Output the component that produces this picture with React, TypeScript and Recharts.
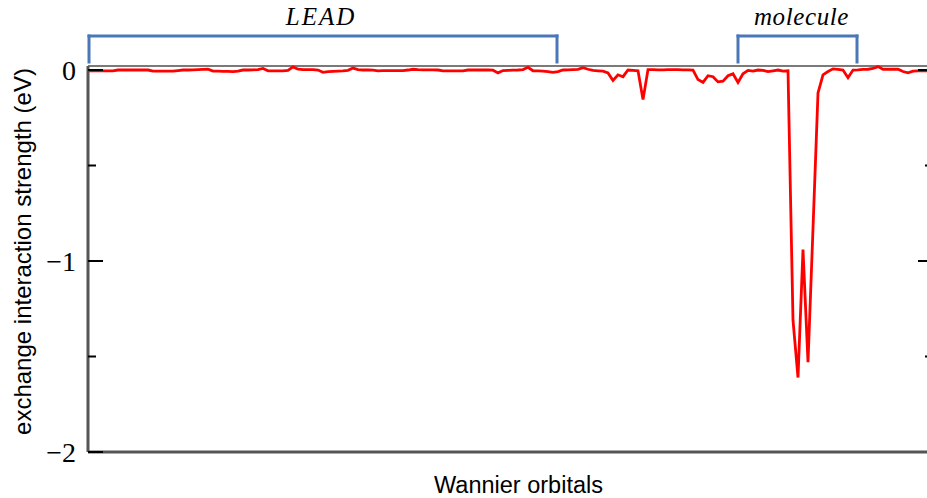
import { LineChart, Line, XAxis, YAxis, ReferenceLine, Label } from 'recharts'

// exchange interaction strength (eV) per Wannier orbital
const exchange = [
  -0.005, -0.005, -0.005, -0.005, -0.005, -0.004, 0, 0, 0, 0.001,
  0, 0.001, 0, -0.006, -0.006, -0.006, -0.006, -0.006, -0.003, 0,
  0, 0.001, 0.002, 0.003, 0.004, -0.006, -0.006, -0.007, -0.007, -0.008,
  -0.006, 0, 0, 0.001, 0.002, 0.008, -0.004, -0.005, -0.005, -0.005,
  -0.002, 0.016, 0.004, 0.002, 0.002, 0.002, 0, -0.012, -0.008, -0.007,
  -0.006, -0.005, -0.002, 0.01, 0.002, 0, 0, -0.001, -0.004, -0.003,
  -0.003, -0.003, -0.003, -0.003, 0, 0.004, 0.002, 0.001, 0.001, 0.001,
  0, -0.005, -0.005, -0.005, -0.005, -0.005, 0, 0, 0, 0,
  0, -0.001, -0.015, -0.003, -0.002, -0.001, 0, 0.002, 0.014, -0.004,
  -0.005, -0.006, -0.008, -0.012, -0.008, 0, 0.001, 0.002, 0.003, 0.012,
  0.004, -0.002, -0.004, -0.006, -0.015, -0.055, -0.025, -0.035, 0, -0.002,
  -0.004, -0.155, 0.002, 0.002, 0.001, 0.001, 0.002, 0.002, 0.002, 0.001,
  0.001, 0, -0.05, -0.065, -0.03, -0.035, -0.062, -0.058, -0.03, -0.02,
  -0.065, -0.02, -0.002, -0.006, 0, -0.002, -0.008, -0.004, 0, -0.006,
  -0.004, -1.31, -1.61, -0.94, -1.53, -0.83, -0.12, -0.025, -0.008, 0.006,
  0.003, 0, -0.04, 0, 0.001, 0.003, 0.004, 0.008, 0.018, 0.004,
  0.004, 0.005, 0.004, -0.008, -0.015, -0.006, -0.004, -0.004, -0.004, -0.004,
]

const yTicks = [0, -0.5, -1, -1.5, -2]
const majorTicks = [0, -1, -2]

// bracketed regions along the orbital axis
const regionNames = ['LEAD', 'molecule']
const regionStart = [0.2, 130]
const regionEnd = [93.8, 153.8]

const data = exchange.map((v, i) => ({ orbital: i, value: v }))

const X_MAX = 169
const Y_DOMAIN: [number, number] = [-2, 0.021]
const BRACKET_LO = 0.042
const BRACKET_HI = 0.178
const BRACKET_COLOR = '#4a78b6'

const fmt = (v: number) => (v === 0 ? '0' : (v < 0 ? '\u2212' : '') + Math.abs(v))

const leftTick = (props: any) => {
  const { x, y, payload } = props
  const major = majorTicks.includes(payload.value)
  return (
    <g>
      <line x1={x} x2={x + (major ? 15 : 8)} y1={y} y2={y} stroke="#000" strokeWidth={2} />
      {major && (
        <text x={x - 12} y={y} textAnchor="end" dominantBaseline="central"
          fontFamily="'Liberation Serif', serif" fontSize={28} fill="#000">
          {fmt(payload.value)}
        </text>
      )}
    </g>
  )
}

const yTitle = (props: any) => {
  const vb = props.viewBox
  const cx = vb.x + 22
  const cy = vb.y + vb.height / 2 - 7.5
  return (
    <text x={cx} y={cy} transform={`rotate(-90 ${cx} ${cy})`} textAnchor="middle" dominantBaseline="central"
      fontFamily="'Liberation Sans', Arial, sans-serif" fontSize={24} fill="#000">
      exchange interaction strength (eV)
    </text>
  )
}

const xTitle = (props: any) => {
  const vb = props.viewBox
  return (
    <text x={vb.x + vb.width / 2 + 8} y={vb.y + vb.height - 5} textAnchor="middle"
      fontFamily="'Liberation Sans', Arial, sans-serif" fontSize={23.5} fill="#000">
      Wannier orbitals
    </text>
  )
}

const bracketLabel = (text: string, shift: number, spacing: number) => (props: any) => {
  const vb = props.viewBox
  return (
    <text x={vb.x + vb.width / 2 + shift} y={vb.y - 11} textAnchor="middle"
      fontFamily="'Liberation Serif', serif" fontStyle="italic" fontSize={25} letterSpacing={spacing} fill="#000">
      {text}
    </text>
  )
}

export default function App() {
  return (
    <div style={{ position: 'absolute', left: 0, top: 0, width: 927, height: 498, overflow: 'hidden', background: '#fff' }}>
      <LineChart width={933} height={498} data={data} margin={{ top: 66, right: 0, bottom: 0, left: 0 }}>
        <XAxis xAxisId="bottom" dataKey="orbital" type="number" domain={[0, X_MAX]} tick={false} tickLine={false}
          axisLine={{ stroke: '#555', strokeWidth: 3 }} height={46}
          label={<Label content={xTitle} />} />
        <YAxis yAxisId="left" type="number" domain={Y_DOMAIN} ticks={yTicks} tick={leftTick} tickLine={false}
          tickSize={0} tickMargin={0} axisLine={{ stroke: '#555', strokeWidth: 3 }} width={88}
          label={<Label content={yTitle} />} />
        {/* top frame line */}
        <ReferenceLine xAxisId="bottom" yAxisId="left" y={Y_DOMAIN[1]} ifOverflow="visible"
          stroke="#7a7a7a" strokeWidth={2} />
        <Line xAxisId="bottom" yAxisId="left" type="linear" dataKey="value" stroke="#ff0000" strokeWidth={2.8}
          dot={false} activeDot={false} isAnimationActive={false} />
        {/* inward ticks on the right frame */}
        {yTicks.map((v) => (
          <ReferenceLine key={'rt' + v} xAxisId="bottom" yAxisId="left" ifOverflow="visible"
            stroke="#000" strokeWidth={2}
            segment={[{ x: X_MAX - (majorTicks.includes(v) ? 3 : 1.6), y: v }, { x: X_MAX, y: v }]} />
        ))}
        {regionNames.map((name, k) => [
          <ReferenceLine key={name + 'l'} xAxisId="bottom" yAxisId="left" ifOverflow="visible"
            stroke={BRACKET_COLOR} strokeWidth={3} strokeLinecap="square"
            segment={[{ x: regionStart[k], y: BRACKET_LO }, { x: regionStart[k], y: BRACKET_HI }]} />,
          <ReferenceLine key={name + 't'} xAxisId="bottom" yAxisId="left" ifOverflow="visible"
            stroke={BRACKET_COLOR} strokeWidth={3} strokeLinecap="square"
            segment={[{ x: regionStart[k], y: BRACKET_HI }, { x: regionEnd[k], y: BRACKET_HI }]}
            label={<Label content={bracketLabel(name, k === 0 ? -2 : 4, k === 0 ? 2 : 0.6)} />} />,
          <ReferenceLine key={name + 'r'} xAxisId="bottom" yAxisId="left" ifOverflow="visible"
            stroke={BRACKET_COLOR} strokeWidth={3} strokeLinecap="square"
            segment={[{ x: regionEnd[k], y: BRACKET_LO }, { x: regionEnd[k], y: BRACKET_HI }]} />,
        ])}
      </LineChart>
    </div>
  )
}
